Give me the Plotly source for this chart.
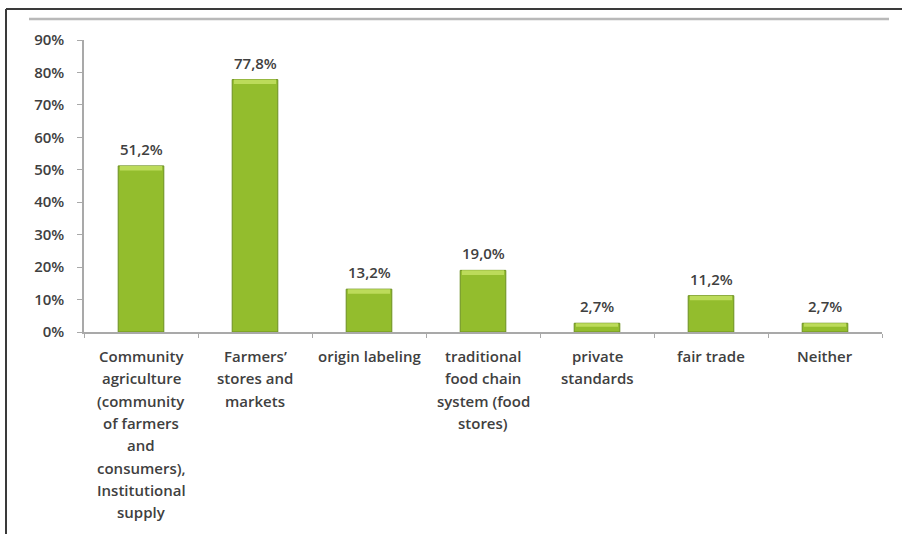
import plotly.graph_objects as go

# Survey shares by channel (percent of respondents)
categories = [
    "Community\nagriculture\n(community\nof farmers\nand\nconsumers),\nInstitutional\nsupply",
    "Farmers’\nstores and\nmarkets",
    "origin labeling",
    "traditional\nfood chain\nsystem (food\nstores)",
    "private\nstandards",
    "fair trade",
    "Neither",
]
shares = [51.2, 77.8, 13.2, 19.0, 2.7, 11.2, 2.7]
y_ticks = [0, 10, 20, 30, 40, 50, 60, 70, 80, 90]

FONT = "Open Sans"
TEXT = "#404040"
WEIGHT = 600
W, H = 902, 534
L, R, T, B = 84, 20, 40, 202
PW, PH = W - L - R, H - T - B


def px_x(x):
    return (x - L) / PW


def px_y(y):
    return (H - B - y) / PH


keys = [f"c{i}" for i in range(len(categories))]

fig = go.Figure()
fig.add_trace(go.Bar(
    x=keys, y=shares,
    marker=dict(color="#93bd2d", line=dict(color="#6c8f20", width=1)),
    width=0.4, hoverinfo="skip",
))
# light bevel along the top of each bar
cap = [min(1.4, v * 0.4) for v in shares]
fig.add_trace(go.Bar(
    x=keys, y=cap, base=[v - c for v, c in zip(shares, cap)],
    marker=dict(color="#bcdb5a", line=dict(width=0)),
    width=0.37, hoverinfo="skip",
))

annotations = []
for k, v in zip(keys, shares):
    annotations.append(dict(
        x=k, y=v, xref="x", yref="y", text=f"{v:.1f}%".replace(".", ","),
        showarrow=False, yanchor="middle", yshift=17,
        font=dict(family=FONT, size=15, color=TEXT, weight=WEIGHT),
    ))
for k, label in zip(keys, categories):
    for i, line in enumerate(label.split("\n")):
        annotations.append(dict(
            x=k, y=0, xref="x", yref="y", text=line, showarrow=False,
            yanchor="middle", yshift=-(24 + i * 22.3),
            font=dict(family=FONT, size=15, color=TEXT, weight=WEIGHT),
        ))

shapes = [
    dict(type="line", xref="paper", yref="paper",
         x0=px_x(6), x1=px_x(903), y0=px_y(9), y1=px_y(9),
         line=dict(color="#3a3a3a", width=2)),
    dict(type="line", xref="paper", yref="paper",
         x0=px_x(6), x1=px_x(6), y0=px_y(9), y1=px_y(535),
         line=dict(color="#3a3a3a", width=2)),
    dict(type="line", xref="paper", yref="paper",
         x0=px_x(29), x1=px_x(889), y0=px_y(19), y1=px_y(19),
         line=dict(color="#b9b9b9", width=2.5)),
]

fig.update_layout(
    width=W, height=H, autosize=False,
    margin=dict(l=L, r=R, t=T, b=B, pad=0),
    paper_bgcolor="white", plot_bgcolor="white",
    barmode="overlay", showlegend=False,
    annotations=annotations, shapes=shapes,
    font=dict(family=FONT, size=15, color=TEXT),
)
fig.update_xaxes(
    type="category", categoryorder="array", categoryarray=keys,
    showticklabels=False, showgrid=False, zeroline=False,
    showline=True, linecolor="#a9a9a9", linewidth=1.5,
    ticks="outside", tickson="boundaries", ticklen=4, tickcolor="#a9a9a9",
    range=[-0.5, len(keys) - 0.5],
)
fig.update_yaxes(
    range=[0, 90], tickvals=y_ticks, ticktext=[f"{t}%" for t in y_ticks],
    showgrid=False, zeroline=False,
    showline=True, linecolor="#a9a9a9", linewidth=1.5,
    ticks="outside", ticklen=5, tickcolor="#a9a9a9",
    ticklabelstandoff=10,
    tickfont=dict(family=FONT, size=15, color=TEXT, weight=WEIGHT),
)

fig.write_html("out.html")
